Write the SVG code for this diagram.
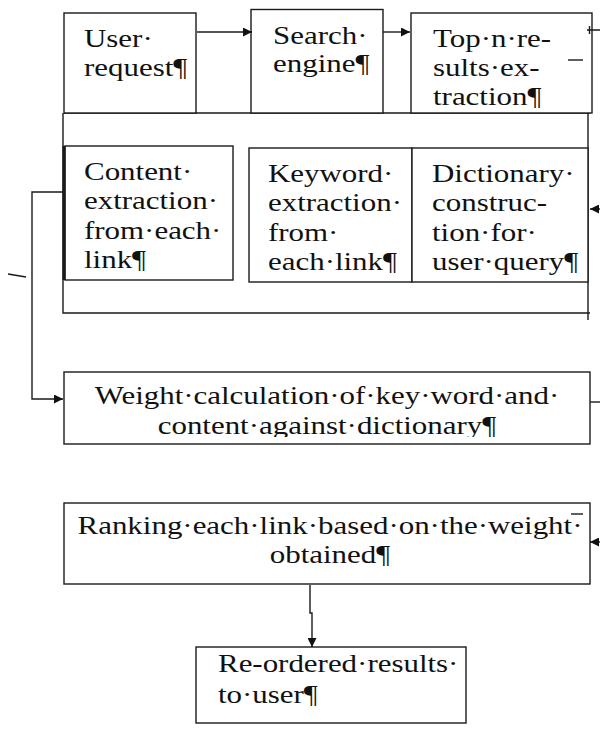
<svg xmlns="http://www.w3.org/2000/svg" width="600" height="729" viewBox="0 0 600 729">
  <style>
    .box { fill: #fff; stroke: #1a1a1a; stroke-width: 1.4; }
    .ln { fill: none; stroke: #1a1a1a; stroke-width: 1.4; }
    .t { font-family: "Liberation Serif", "Times New Roman", serif; font-size: 26px; fill: #111; }
    .mid { text-anchor: middle; }
  </style>
  <defs>
    <marker id="arr" viewBox="0 0 10 10" refX="10" refY="5" markerWidth="11" markerHeight="9" markerUnits="userSpaceOnUse" orient="auto">
      <path d="M0,0 L10,5 L0,10 z" fill="#111"/>
    </marker>
    <clipPath id="clipDict"><rect x="413" y="149" width="173" height="126"/></clipPath>
    <clipPath id="clipWeight"><rect x="65" y="373" width="524" height="64"/></clipPath>
  </defs>

  <!-- outer frame around the extraction stage -->
  <g id="stage-frame">
    <path class="ln" d="M64,113 H590 M588,113 V320 M63,113 V313 H590"/>
  </g>

  <g id="user-request">
    <rect class="box" x="64" y="13" width="132" height="100"/>
    <text class="t" transform="matrix(1.19 0 0 1 84 47)"><tspan x="0" y="0">User·</tspan><tspan x="0" y="29">request¶</tspan></text>
  </g>

  <g id="search-engine">
    <rect class="box" x="251" y="9.5" width="132" height="103.5"/>
    <text class="t" transform="matrix(1.19 0 0 1 273 44)"><tspan x="0" y="0">Search·</tspan><tspan x="0" y="28">engine¶</tspan></text>
  </g>

  <g id="top-n-results">
    <rect class="box" x="411" y="13" width="181" height="100"/>
    <text class="t" transform="matrix(1.19 0 0 1 433 47)"><tspan x="0" y="0">Top·n·re-</tspan><tspan x="0" y="29">sults·ex-</tspan><tspan x="0" y="58">traction¶</tspan></text>
  </g>

  <g id="content-extraction">
    <rect class="box" x="65" y="146" width="168" height="134"/>
    <path class="ln" d="M64,146 V280" style="stroke-width:3"/>
    <text class="t" transform="matrix(1.19 0 0 1 84 180)"><tspan x="0" y="0">Content·</tspan><tspan x="0" y="29.5">extraction·</tspan><tspan x="0" y="59">from·each·</tspan><tspan x="0" y="88.5">link¶</tspan></text>
  </g>

  <g id="keyword-extraction">
    <rect class="box" x="249" y="148" width="163" height="134"/>
    <text class="t" transform="matrix(1.19 0 0 1 268 182)"><tspan x="0" y="0">Keyword·</tspan><tspan x="0" y="29.5">extraction·</tspan><tspan x="0" y="59">from·</tspan><tspan x="0" y="88.5">each·link¶</tspan></text>
  </g>

  <g id="dictionary-construction">
    <rect class="box" x="412" y="148" width="176" height="134"/>
    <g clip-path="url(#clipDict)">
      <text class="t" transform="matrix(1.19 0 0 1 432 182)"><tspan x="0" y="0">Dictionary·</tspan><tspan x="0" y="29.5">construc-</tspan><tspan x="0" y="59">tion·for·</tspan><tspan x="0" y="88.5">user·query¶</tspan></text>
    </g>
  </g>

  <g id="weight-calculation">
    <rect class="box" x="64" y="372" width="526" height="72"/>
    <g clip-path="url(#clipWeight)">
      <text class="t mid" transform="matrix(1.19 0 0 1 327 404)"><tspan x="0" y="0">Weight·calculation·of·key·word·and·</tspan><tspan x="0" y="30">content·against·dictionary¶</tspan></text>
    </g>
  </g>

  <g id="ranking">
    <rect class="box" x="64" y="503" width="526" height="81"/>
    <text class="t mid" transform="matrix(1.19 0 0 1 330 534)"><tspan x="0" y="0">Ranking·each·link·based·on·the·weight·</tspan><tspan x="0" y="29">obtained¶</tspan></text>
  </g>

  <g id="reordered-results">
    <rect class="box" x="196" y="647" width="270" height="76"/>
    <text class="t" transform="matrix(1.19 0 0 1 218 672)"><tspan x="0" y="0">Re-ordered·results·</tspan><tspan x="0" y="31">to·user¶</tspan></text>
  </g>

  <g id="connectors">
    <path class="ln" d="M197,32 H252" marker-end="url(#arr)"/>
    <path class="ln" d="M383,32 H410" marker-end="url(#arr)"/>
    <path class="ln" d="M64,192 H32 V399 H63" marker-end="url(#arr)"/>
    <path class="ln" d="M310,585 V613 H312 V647" marker-end="url(#arr)"/>
    <path class="ln" d="M600,209 H590" marker-end="url(#arr)"/>
    <path class="ln" d="M600,542 H590" marker-end="url(#arr)"/>
    <path class="ln" d="M590,402 H600"/>
    <!-- loose line fragments along the edges -->
    <path class="ln" d="M587,30 H600 M589.5,26 V34"/>
    <path class="ln" d="M568,60 H583"/>
    <path class="ln" d="M571,514 H583"/>
    <path class="ln" d="M8,274 L26,277"/>
  </g>
</svg>
